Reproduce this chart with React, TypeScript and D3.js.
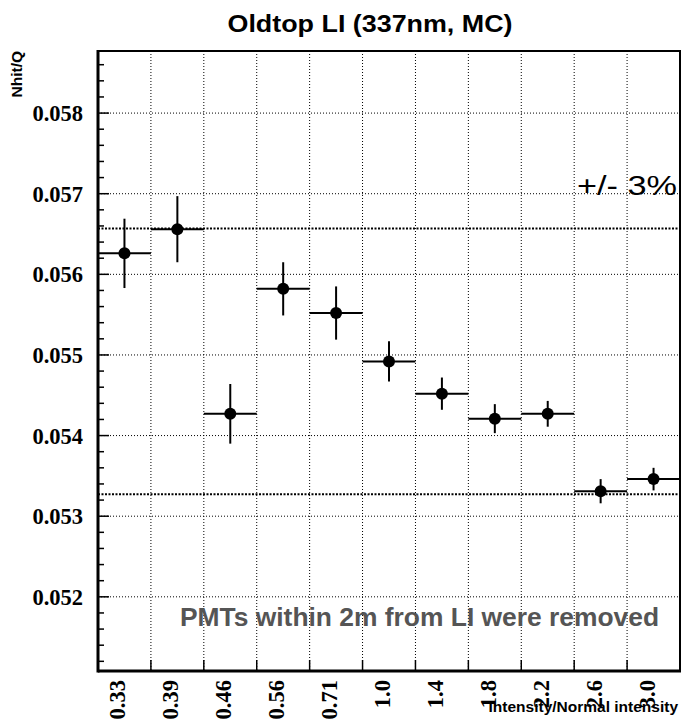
import {useEffect, useRef} from 'react';
import * as d3 from 'd3';

// intensity bins (ratio to normal intensity)
const binLabels = ["0.33", "0.39", "0.46", "0.56", "0.71", "1.0", "1.4", "1.8", "2.2", "2.6", "3.0"];
const nhitPerQ = [0.05626, 0.05656, 0.05427, 0.05582, 0.05552, 0.05492, 0.05452, 0.05421, 0.05427, 0.05331, 0.05346];
const nhitErr = [0.00043, 0.00041, 0.00037, 0.00033, 0.00033, 0.00025, 0.00020, 0.00018, 0.00016, 0.00015, 0.00014];
const yTicks = [0.052, 0.053, 0.054, 0.055, 0.056, 0.057, 0.058];
const yTickLabels = ["0.052", "0.053", "0.054", "0.055", "0.056", "0.057", "0.058"];
const normalLabel = "1.0";
const bandFraction = 0.03;

const SANS = '"Liberation Sans", Arial, Helvetica, sans-serif';
const SERIF = '"Liberation Serif", "Times New Roman", serif';

const App = () => {
    const ref = useRef(null);

    useEffect(() => {
        const width = 681, height = 720;
        const frame = {left: 98, right: 680, top: 51, bottom: 671};

        d3.select(ref.current).selectAll("svg").remove();
        const svg = d3.select(ref.current)
            .append('svg')
            .attr('width', width)
            .attr('height', height)
            .style('display', 'block');

        const x = d3.scaleBand().domain(binLabels).range([frame.left, frame.right]).padding(0);
        const y = d3.scaleLinear().domain([0.05108, 0.05877]).range([frame.bottom, frame.top]);
        const bw = x.bandwidth();

        // grid
        const grid = svg.append('g').attr('stroke', '#000').attr('stroke-width', 1).attr('stroke-dasharray', '1,2');
        binLabels.slice(1).forEach(l => {
            grid.append('line')
                .attr('x1', x(l)).attr('x2', x(l))
                .attr('y1', frame.top).attr('y2', frame.bottom);
        });
        yTicks.forEach(v => {
            grid.append('line')
                .attr('x1', frame.left).attr('x2', frame.right)
                .attr('y1', y(v)).attr('y2', y(v));
        });

        // +/- 3% band around the normal intensity point
        const ref0 = nhitPerQ[binLabels.indexOf(normalLabel)];
        [1 + bandFraction, 1 - bandFraction].forEach(f => {
            svg.append('line')
                .attr('x1', frame.left).attr('x2', frame.right)
                .attr('y1', y(ref0 * f)).attr('y2', y(ref0 * f))
                .attr('stroke', '#000').attr('stroke-width', 2)
                .attr('stroke-dasharray', '2,1.5');
        });

        // error bars + markers
        const pts = svg.append('g');
        binLabels.forEach((l, i) => {
            const cx = x(l) + bw / 2;
            const cy = y(nhitPerQ[i]);
            pts.append('line')
                .attr('x1', x(l)).attr('x2', x(l) + bw)
                .attr('y1', cy).attr('y2', cy)
                .attr('stroke', '#000').attr('stroke-width', 2);
            pts.append('line')
                .attr('x1', cx).attr('x2', cx)
                .attr('y1', y(nhitPerQ[i] + nhitErr[i])).attr('y2', y(nhitPerQ[i] - nhitErr[i]))
                .attr('stroke', '#000').attr('stroke-width', 2);
            pts.append('circle')
                .attr('cx', cx).attr('cy', cy).attr('r', 6)
                .attr('fill', '#000');
        });

        // frame
        svg.append('rect')
            .attr('x', frame.left).attr('y', frame.top)
            .attr('width', frame.right - frame.left).attr('height', frame.bottom - frame.top)
            .attr('fill', 'none').attr('stroke', '#000').attr('stroke-width', 2);
        svg.append('line')
            .attr('x1', frame.left).attr('x2', frame.left)
            .attr('y1', frame.top - 1).attr('y2', frame.bottom + 1.5)
            .attr('stroke', '#000').attr('stroke-width', 3);
        svg.append('line')
            .attr('x1', frame.left).attr('x2', frame.right + 1)
            .attr('y1', frame.bottom).attr('y2', frame.bottom)
            .attr('stroke', '#000').attr('stroke-width', 3);

        // y ticks
        const ticks = svg.append('g').attr('stroke', '#000').attr('stroke-width', 1.5);
        d3.range(256, 294).forEach(k => {
            const major = k % 5 === 0;
            ticks.append('line')
                .attr('x1', frame.left).attr('x2', frame.left + (major ? 11 : 6))
                .attr('y1', y(k * 0.0002)).attr('y2', y(k * 0.0002));
        });
        // x ticks at bin edges
        binLabels.slice(1).forEach(l => {
            ticks.append('line')
                .attr('x1', x(l)).attr('x2', x(l))
                .attr('y1', frame.bottom).attr('y2', frame.bottom - 11);
        });

        // y tick labels
        yTicks.forEach((v, i) => {
            svg.append('text')
                .attr('x', 83).attr('y', y(v) + 8)
                .attr('text-anchor', 'end')
                .style('font-family', SERIF).style('font-weight', 'bold').style('font-size', '22.5px')
                .text(yTickLabels[i]);
        });

        // x tick labels (rotated)
        binLabels.forEach(l => {
            const cx = x(l) + bw / 2 + 1;
            svg.append('text')
                .attr('transform', `translate(${cx},680) rotate(-90)`)
                .attr('text-anchor', 'end')
                .style('font-family', SERIF).style('font-weight', 'bold').style('font-size', '22.5px')
                .text(l);
        });

        // titles
        svg.append('text')
            .attr('x', 370).attr('y', 32)
            .attr('text-anchor', 'middle')
            .attr('textLength', 285).attr('lengthAdjust', 'spacingAndGlyphs')
            .style('font-family', SANS).style('font-weight', 'bold').style('font-size', '24px')
            .text('Oldtop LI (337nm, MC)');

        svg.append('text')
            .attr('transform', 'translate(22,51) rotate(-90)')
            .attr('text-anchor', 'end')
            .style('font-family', SANS).style('font-weight', 'bold').style('font-size', '15.5px')
            .text('Nhit/Q');

        svg.append('text')
            .attr('x', 678).attr('y', 712)
            .attr('text-anchor', 'end')
            .style('font-family', SANS).style('font-weight', 'bold').style('font-size', '15.5px')
            .text('Intensity/Normal intensity');

        svg.append('text')
            .attr('x', 677).attr('y', 195)
            .attr('text-anchor', 'end')
            .attr('textLength', 100).attr('lengthAdjust', 'spacingAndGlyphs')
            .style('font-family', SANS).style('font-size', '28px')
            .text('+/- 3%');

        svg.append('text')
            .attr('x', 180).attr('y', 626)
            .attr('fill', '#555')
            .style('font-family', SANS).style('font-weight', 'bold').style('font-size', '26.4px')
            .text('PMTs within 2m from LI were removed');
    }, []);

    return <div ref={ref} style={{position: 'absolute', left: 0, top: 0}}></div>;
};

export default App;
